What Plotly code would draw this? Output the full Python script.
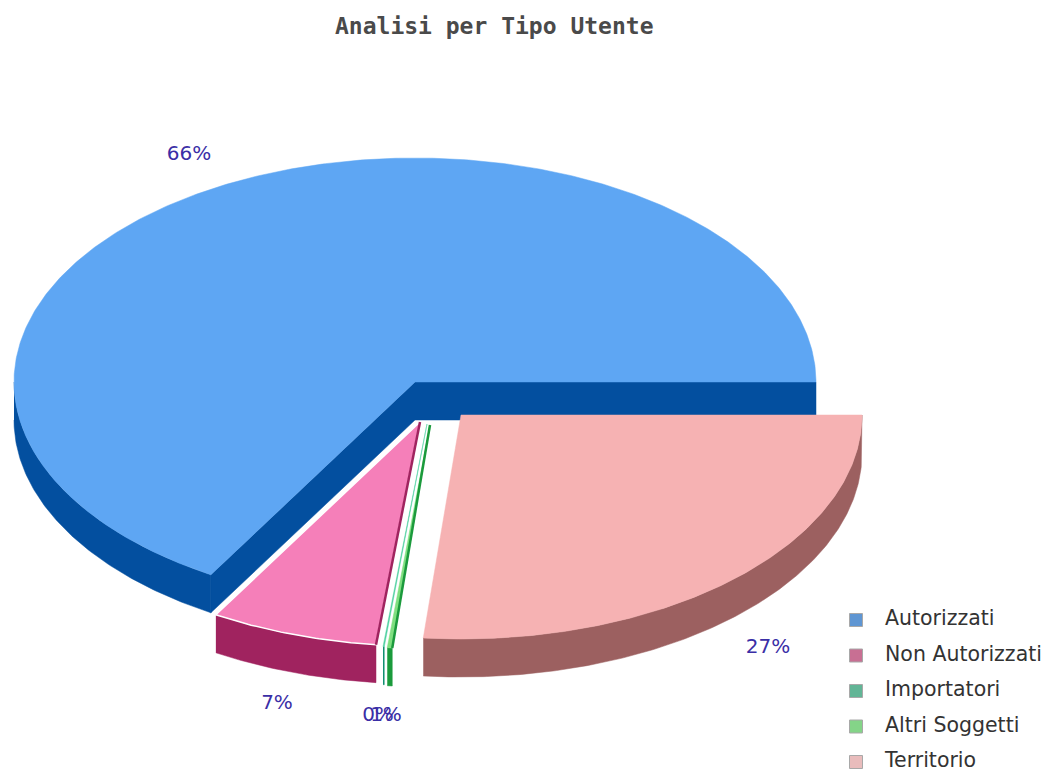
import numpy as np
import plotly.graph_objects as go

# Data
categories = ["Autorizzati", "Non Autorizzati", "Importatori", "Altri Soggetti", "Territorio"]
values = [66.5, 6.75, 0.05, 0.2, 26.5]
labels = ["66%", "7%", "0%", "1%", "27%"]

# Style and layout
top_colors = ["#5ea6f3", "#f57fb9", "#4fd0a0", "#7fdf80", "#f6b2b3"]
side_colors = ["#034f9f", "#a0235f", "#109070", "#1b9a3c", "#9c6060"]
swatch_colors = ["#5f96d3", "#c86f93", "#62b596", "#84d488", "#e9bcbc"]
centers = [(415, 382), (420, 422), (427, 424), (430, 425), (461, 415)]
label_pos = [(189, 155), (277, 704), (378, 716), (386, 716), (768, 648)]
RX, RY, DEPTH = 401, 224, 38
W, H = 1052, 773
LABEL_COLOR = "#3a2ea6"


def pt(c, t):
    return c[0] + RX * np.cos(t), c[1] - RY * np.sin(t)


def poly(fig, xs, ys, fill, line=None, lw=0):
    fig.add_trace(go.Scatter(
        x=list(xs), y=list(ys), mode="lines", fill="toself", fillcolor=fill,
        line=dict(color=line or fill, width=lw if line else 0.5),
        hoverinfo="skip", showlegend=False))


fig = go.Figure()
edges = np.radians(np.concatenate([[0], np.cumsum(values)]) * 3.6)

for i, name in enumerate(categories):
    a, b = edges[i], edges[i + 1]
    c = centers[i]
    ts = np.linspace(a, b, max(int(np.degrees(b - a)) * 2, 4))
    # front rim: only the part of the arc in the lower half is visible
    lo = max(a, np.pi)
    if b > lo:
        tr = np.linspace(lo, b, max(int(np.degrees(b - lo)) * 2, 4))
        x, y = pt(c, tr)
        poly(fig, np.r_[x, x[::-1]], np.r_[y, y[::-1] + DEPTH], side_colors[i])
    # cut walls of the large slice
    if i == 0:
        x0, y0 = pt(c, a)
        poly(fig, [c[0], x0, x0, c[0]], [c[1], y0, y0 + DEPTH, c[1] + DEPTH], side_colors[i])
        x1, y1 = pt(c, b)
        poly(fig, [c[0], x1, x1, c[0]], [c[1], y1, y1 + DEPTH, c[1] + DEPTH], side_colors[i])
    x, y = pt(c, ts)
    outline = "#ffffff" if i == 1 else None
    poly(fig, np.r_[c[0], x, c[0]], np.r_[c[1], y, c[1]], top_colors[i], outline, 1.5)
    # dark cut edge seen along the right side of the narrow slices
    if i in (1, 3):
        xe, ye = pt(c, b)
        fig.add_trace(go.Scatter(
            x=[c[0], xe], y=[c[1], ye], mode="lines",
            line=dict(color=side_colors[i], width=2.5),
            hoverinfo="skip", showlegend=False))

# slice labels
for txt, (lx, ly) in zip(labels, label_pos):
    fig.add_trace(go.Scatter(
        x=[lx], y=[ly], mode="text", text=[txt], textposition="middle center",
        textfont=dict(family="DejaVu Sans", size=20, color=LABEL_COLOR),
        hoverinfo="skip", showlegend=False))

# legend
for i, name in enumerate(categories):
    yy = 620 + 35.5 * i
    fig.add_trace(go.Scatter(
        x=[856], y=[yy], mode="markers",
        marker=dict(symbol="square", size=13, color=swatch_colors[i],
                    line=dict(color="#a8a8a8", width=1)),
        hoverinfo="skip", showlegend=False))
    fig.add_trace(go.Scatter(
        x=[885], y=[yy], mode="text", text=[name], textposition="middle right",
        textfont=dict(family="DejaVu Sans", size=20.5, color="#333333"),
        hoverinfo="skip", showlegend=False))

fig.update_layout(
    width=W, height=H, margin=dict(l=0, r=0, t=0, b=0),
    paper_bgcolor="white", plot_bgcolor="white", showlegend=False,
    xaxis=dict(range=[0, W], visible=False, fixedrange=True),
    yaxis=dict(range=[H, 0], visible=False, fixedrange=True),
    annotations=[dict(
        text="<b>Analisi per Tipo Utente</b>", x=494, y=26, xref="x", yref="y",
        showarrow=False, xanchor="center", yanchor="middle",
        font=dict(family="DejaVu Sans Mono", size=23, color="#4a4a4a"))],
)
fig.write_html("out.html", config=dict(displayModeBar=False),
               post_script="document.body.style.margin='0';")
